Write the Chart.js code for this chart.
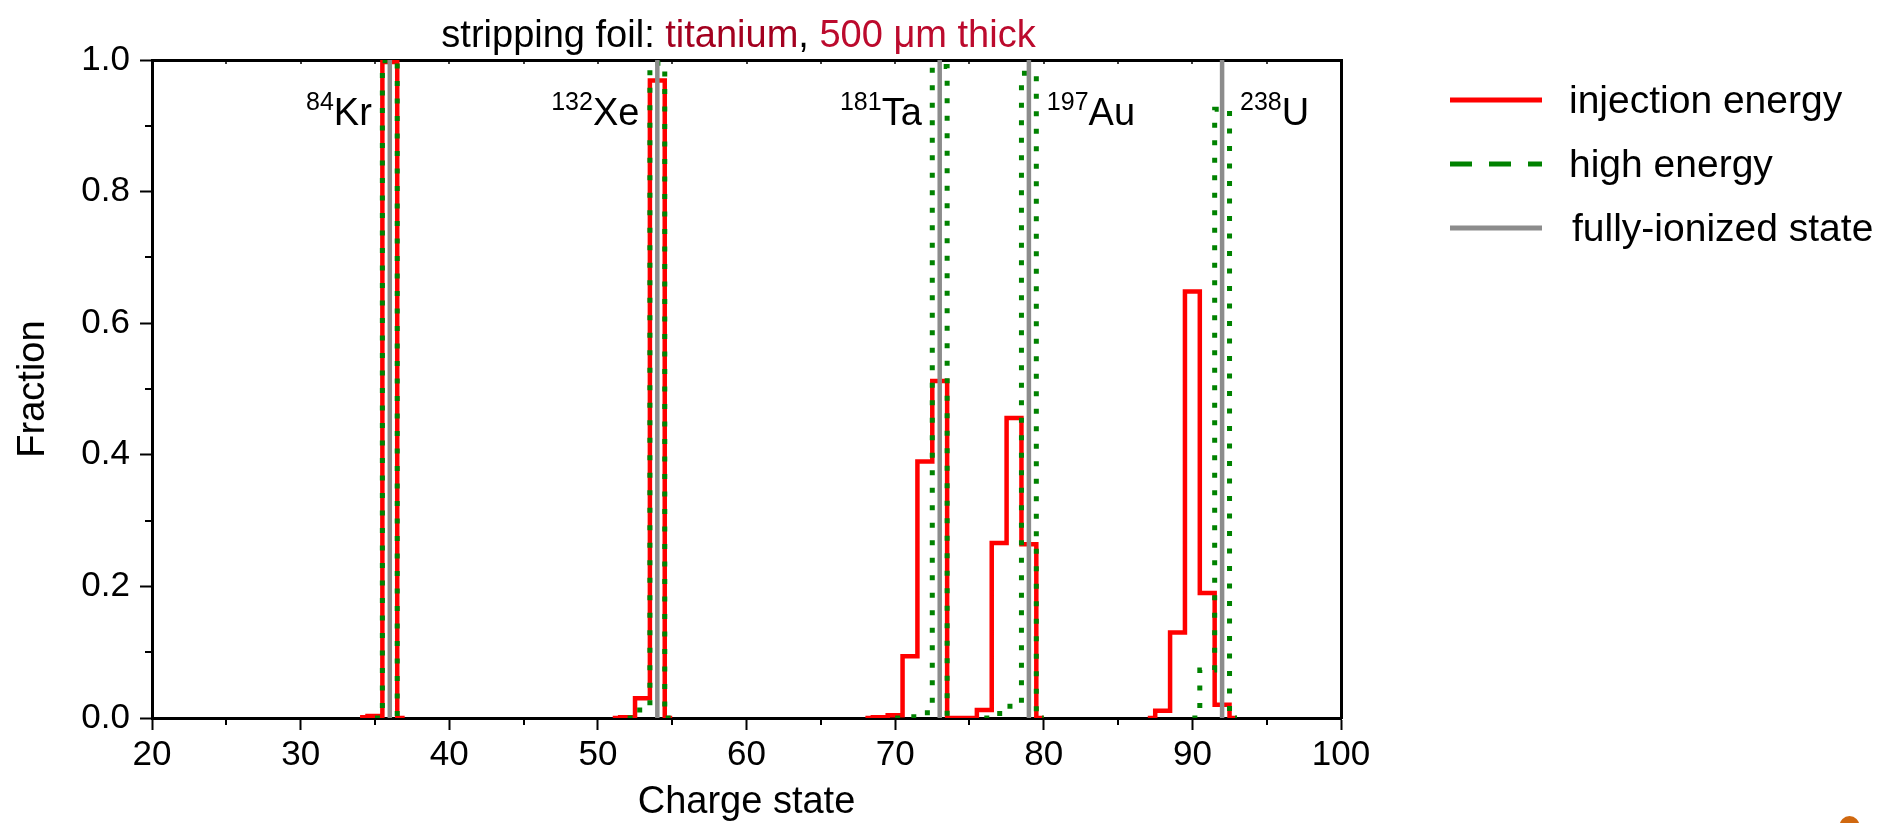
<!DOCTYPE html>
<html>
<head>
<meta charset="utf-8">
<script src="https://cdn.jsdelivr.net/npm/chart.js@4/dist/chart.umd.min.js"></script>
<style>
  html, body { margin: 0; padding: 0; background: #ffffff; }
  #wrap { width: 1892px; height: 823px; position: relative; }
</style>
</head>
<body>
<div id="wrap"><canvas id="chart"></canvas></div>
<script>
// ---------------- data ----------------
const ionSymbols = ['Kr', 'Xe', 'Ta', 'Au', 'U'];
const ionMassNumbers = ['84', '132', '181', '197', '238'];
const fullyIonizedCharge = [36, 54, 73, 79, 92];
const ionLabelSide = ['left', 'left', 'left', 'right', 'right'];

const krCharge    = [34, 35, 36, 37];
const krInjection = [0.001, 0.003, 0.997, 0];
const krHigh      = [null, 0, 0.999, 0];

const xeCharge    = [51, 52, 53, 54, 55];
const xeInjection = [0, 0.001, 0.030, 0.969, 0];
const xeHigh      = [null, 0, 0.012, 0.995, 0];

const taCharge    = [68, 69, 70, 71, 72, 73, 74];
const taInjection = [0, 0.001, 0.004, 0.094, 0.390, 0.512, 0];
const taHigh      = [null, null, 0, 0.002, 0.008, 0.990, 0];

const auCharge    = [74, 75, 76, 77, 78, 79, 80];
const auInjection = [0, 0, 0.012, 0.266, 0.456, 0.264, 0];
const auHigh      = [null, null, 0, 0.007, 0.018, 0.980, 0];

const uCharge     = [87, 88, 89, 90, 91, 92, 93];
const uInjection  = [0, 0.011, 0.130, 0.648, 0.190, 0.020, 0];
const uHigh       = [null, null, null, 0, 0.073, 0.925, 0];

const seriesLabels = ['injection energy', 'high energy', 'fully-ionized state'];

const xTicks = [20, 30, 40, 50, 60, 70, 80, 90, 100];
const xMinorTicks = [25, 35, 45, 55, 65, 75, 85, 95];
const xTopTicks = [25, 30, 35, 40, 45, 50, 55, 60, 65, 70, 75, 80, 85, 90, 95];
const yTicks = [0, 0.2, 0.4, 0.6, 0.8, 1.0];
const yMinorTicks = [0.1, 0.3, 0.5, 0.7, 0.9];

const titleParts = ['stripping foil: ', 'titanium', ', ', '500 μm thick'];
const xAxisTitle = 'Charge state';
const yAxisTitle = 'Fraction';

// ---------------- build ----------------
const chargeLists = [krCharge, xeCharge, taCharge, auCharge, uCharge];
const injectionLists = [krInjection, xeInjection, taInjection, auInjection, uInjection];
const highLists = [krHigh, xeHigh, taHigh, auHigh, uHigh];

function buildSteps(charges, values) {
  const pts = [];
  charges.forEach((qs, i) => {
    qs.forEach((q, j) => pts.push({ x: q, y: values[i][j] }));
    pts.push({ x: qs[qs.length - 1], y: null });
  });
  return pts;
}
function buildVerticals(zs) {
  const pts = [];
  zs.forEach(z => { pts.push({ x: z, y: 0 }, { x: z, y: 1 }, { x: z, y: null }); });
  return pts;
}

const RED = '#ff0000', GREEN = '#008200', GRAY = '#8c8c8c';
const FONT = "'Liberation Sans', Arial, Helvetica, sans-serif";
Chart.defaults.font.family = FONT;
Chart.defaults.color = '#000000';

const decorPlugin = {
  id: 'decor',
  afterDraw(chart) {
    const { ctx, chartArea: a, scales } = chart;
    const x = scales.x, y = scales.y;
    ctx.save();
    // minor ticks
    ctx.strokeStyle = '#000'; ctx.lineWidth = 2;
    const seg = (x1, y1, x2, y2) => { ctx.beginPath(); ctx.moveTo(x1, y1); ctx.lineTo(x2, y2); ctx.stroke(); };
    xMinorTicks.forEach(v => { const p = Math.round(x.getPixelForValue(v)); seg(p, a.bottom + 1, p, a.bottom + 7); });
    yMinorTicks.forEach(v => { const p = Math.round(y.getPixelForValue(v)); seg(a.left - 7, p, a.left - 1, p); });
    ctx.lineWidth = 1.5;
    xTopTicks.forEach(v => { const p = Math.round(x.getPixelForValue(v)); seg(p, a.top, p, a.top + 4); });

    // title (multi-coloured)
    const titleColors = ['#000000', '#a3001f', '#000000', '#bc0a2d'];
    ctx.font = '38px ' + FONT;
    ctx.textBaseline = 'alphabetic';
    ctx.textAlign = 'left';
    const widths = titleParts.map(t => ctx.measureText(t).width);
    const total = widths.reduce((s, w) => s + w, 0);
    let tx = (a.left + a.right) / 2 - 8 - total / 2;
    titleParts.forEach((t, i) => { ctx.fillStyle = titleColors[i]; ctx.fillText(t, tx, 47); tx += widths[i]; });

    // ion labels
    ctx.fillStyle = '#000';
    ionSymbols.forEach((sym, i) => {
      const z = fullyIonizedCharge[i];
      ctx.font = '25px ' + FONT; const wSup = ctx.measureText(ionMassNumbers[i]).width;
      ctx.font = '38px ' + FONT; const wSym = ctx.measureText(sym).width;
      let start;
      if (ionLabelSide[i] === 'left') start = x.getPixelForValue(z - 0.5) - 10.5 - wSup - wSym;
      else start = x.getPixelForValue(z + 0.5) + 10.5;
      ctx.font = '25px ' + FONT; ctx.fillText(ionMassNumbers[i], start, 110);
      ctx.font = '38px ' + FONT; ctx.fillText(sym, start + wSup, 125);
    });

    // legend
    const ds = chart.data.datasets;
    const legendDash = [[], [22, 17], []];
    ds.forEach((d, i) => {
      const ly = 100 + i * 64;
      ctx.strokeStyle = d.borderColor; ctx.lineWidth = 5; ctx.lineCap = 'butt';
      ctx.setLineDash(legendDash[i]);
      seg(1450, ly, 1542, ly);
      ctx.setLineDash([]);
      ctx.fillStyle = '#000'; ctx.font = '39px ' + FONT; ctx.textBaseline = 'middle';
      ctx.fillText(d.label, i === 2 ? 1572 : 1569, ly + 2);
    });

    // decorative dot bottom-right
    ctx.fillStyle = '#d0680f';
    ctx.beginPath(); ctx.arc(1849.5, 826, 10, 0, Math.PI * 2); ctx.fill();
    ctx.restore();
  }
};

new Chart(document.getElementById('chart'), {
  type: 'line',
  data: {
    datasets: [
      { label: seriesLabels[0], data: buildSteps(chargeLists, injectionLists), borderColor: RED, borderWidth: 4.5,
        stepped: 'middle', pointRadius: 0, fill: false, order: 2, borderJoinStyle: 'miter' },
      { label: seriesLabels[1], data: buildSteps(chargeLists, highLists), borderColor: GREEN, borderWidth: 5,
        borderDash: [5, 12.5], stepped: 'middle', pointRadius: 0, fill: false, order: 1, borderJoinStyle: 'miter' },
      { label: seriesLabels[2], data: buildVerticals(fullyIonizedCharge), borderColor: GRAY, borderWidth: 4.5,
        pointRadius: 0, fill: false, order: 0 }
    ]
  },
  options: {
    responsive: true,
    maintainAspectRatio: false,
    animation: false,
    events: [],
    layout: { padding: { left: 0, top: 60, right: 551, bottom: 0 } },
    plugins: { legend: { display: false }, title: { display: false }, tooltip: { enabled: false } },
    scales: {
      x: {
        type: 'linear', position: 'bottom', min: 20, max: 100,
        afterBuildTicks: s => { s.ticks = xTicks.map(v => ({ value: v })); },
        afterFit: s => { s.height = 105; },
        ticks: { font: { size: 35 }, color: '#000', padding: 4, maxRotation: 0, autoSkip: false,
                 callback: v => String(v) },
        grid: { drawOnChartArea: false, drawTicks: true, tickLength: 12, tickWidth: 2, tickColor: '#000' },
        border: { display: true, color: '#000', width: 3 },
        title: { display: true, text: xAxisTitle, font: { size: 38, lineHeight: 1.1 }, color: '#000', padding: 0 }
      },
      y: {
        type: 'linear', position: 'left', min: 0, max: 1,
        afterBuildTicks: s => { s.ticks = yTicks.map(v => ({ value: v })); },
        afterFit: s => { s.width = 152; },
        ticks: { font: { size: 35 }, color: '#000', padding: 10, callback: v => Number(v).toFixed(1) },
        grid: { drawOnChartArea: false, drawTicks: true, tickLength: 12, tickWidth: 2, tickColor: '#000' },
        border: { display: true, color: '#000', width: 3 },
        title: { display: true, text: yAxisTitle, font: { size: 38, lineHeight: 1.2 }, color: '#000',
                 padding: { top: 11, bottom: 0 } }
      },
      x2: {
        type: 'linear', position: 'top', min: 20, max: 100,
        afterFit: s => { s.height = 0; },
        ticks: { display: false },
        grid: { display: false, drawTicks: false },
        border: { display: true, color: '#000', width: 3 }
      },
      y2: {
        type: 'linear', position: 'right', min: 0, max: 1,
        afterFit: s => { s.width = 0; },
        ticks: { display: false },
        grid: { display: false, drawTicks: false },
        border: { display: true, color: '#000', width: 3 }
      }
    }
  },
  plugins: [decorPlugin]
});
</script>
</body>
</html>
